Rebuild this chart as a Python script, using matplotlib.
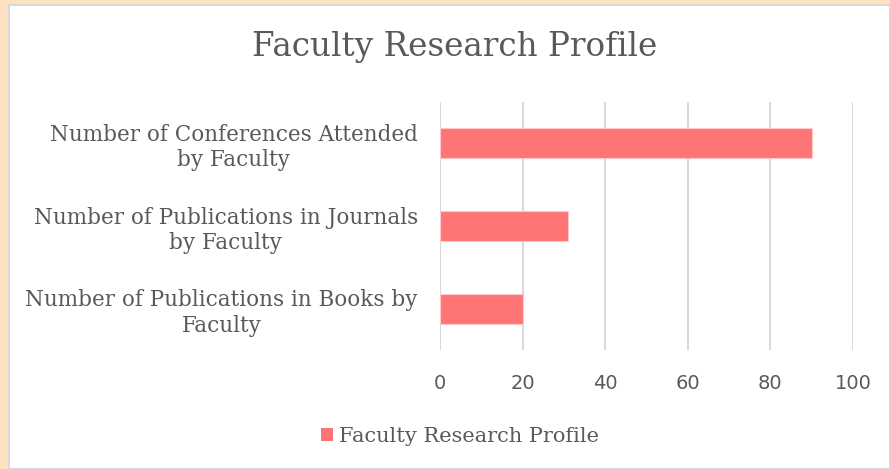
import matplotlib
matplotlib.use("Agg")
import matplotlib.pyplot as plt
from matplotlib.patches import Rectangle, Patch

categories = ["Number of Publications in Books by\nFaculty",
              "Number of Publications in Journals\nby Faculty",
              "Number of Conferences Attended\nby Faculty"]
values = [20, 31, 90]
series_name = "Faculty Research Profile"
xticks = [0, 20, 40, 60, 80, 100]

W, H = 890, 469
fig = plt.figure(figsize=(W / 100, H / 100), dpi=100)
fig.patch.set_facecolor("#FFE3C0")

# white chart area with thin gray border
fig.patches.append(Rectangle((9 / W, 0), 1 - 9 / W, 1 - 5 / H, transform=fig.transFigure,
                             facecolor="white", edgecolor="#D9D9D9", linewidth=1.5, zorder=-5))

text_color = "#595959"
serif = ["DejaVu Serif"]

ax = fig.add_axes([440 / W, 1 - 350 / H, (853 - 440) / W, (350 - 102) / H])
ax.set_zorder(2)
ax.set_facecolor("none")
y = range(len(categories))
ax.barh(y, values, height=0.36, color="#FF7575", edgecolor="#FFC8C8", linewidth=0.8, zorder=3,
        label=series_name)
ax.set_xlim(0, 100)
ax.set_ylim(-0.5, len(categories) - 0.5)
ax.set_xticks(xticks)
ax.set_yticks(list(y))
ax.set_yticklabels(categories, fontfamily=serif, fontsize=15.5, color=text_color,
                   ha="right", multialignment="center", linespacing=1.2)
ax.tick_params(axis="y", length=0, pad=16)
ax.tick_params(axis="x", length=0, pad=17, labelsize=14, labelcolor=text_color)
for lab in ax.get_xticklabels():
    lab.set_fontfamily("DejaVu Sans")
ax.grid(axis="x", color="#D9D9D9", linewidth=1.5, zorder=0)
for s in ax.spines.values():
    s.set_visible(False)

fig.text(455 / W, 1 - 47 / H, "Faculty Research Profile", ha="center", va="center",
         fontfamily=serif, fontsize=23.5, color=text_color, zorder=3)

handle = Patch(facecolor="#FF7575", edgecolor="none")
leg = fig.legend([handle], [series_name], loc="center", bbox_to_anchor=(460 / W, 1 - 436 / H),
                 frameon=False, prop={"family": serif, "size": 15}, labelcolor=text_color,
                 handlelength=0.6, handleheight=0.6, handletextpad=0.3)
leg.set_zorder(3)

fig.savefig("out.png", dpi=100, facecolor=fig.get_facecolor())
